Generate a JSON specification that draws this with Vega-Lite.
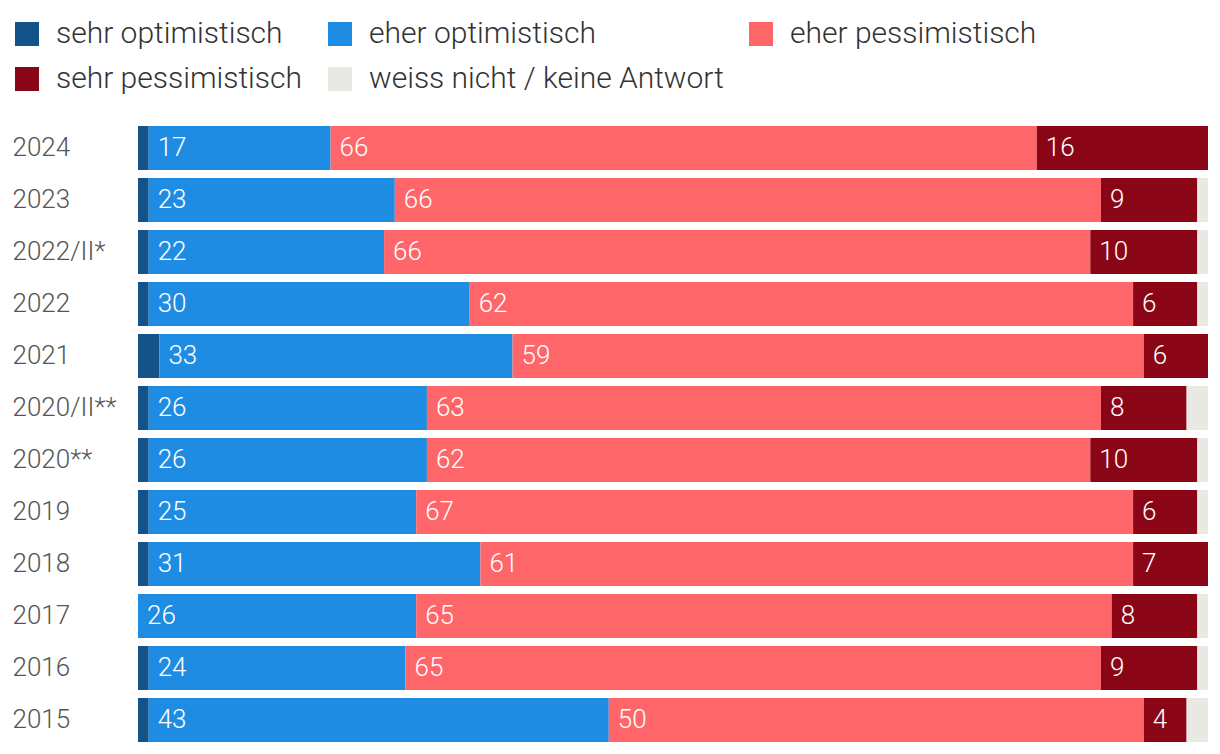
{
  "$schema": "https://vega.github.io/schema/vega-lite/v6.json",
  "width": 1070,
  "height": 616,
  "autosize": {"type": "none"},
  "padding": {"left": 138, "top": 126, "right": 12, "bottom": 12},
  "background": "white",
  "datasets": {
    "cats": [
      {"cat": "sehr optimistisch", "k": 0},
      {"cat": "eher optimistisch", "k": 1},
      {"cat": "eher pessimistisch", "k": 2},
      {"cat": "sehr pessimistisch", "k": 3},
      {"cat": "weiss nicht / keine Antwort", "k": 4}
    ],
    "rows": [
      {"year": "2024", "cat": "sehr optimistisch", "v": 1},
      {"year": "2024", "cat": "eher optimistisch", "v": 17},
      {"year": "2024", "cat": "eher pessimistisch", "v": 66},
      {"year": "2024", "cat": "sehr pessimistisch", "v": 16},
      {"year": "2023", "cat": "sehr optimistisch", "v": 1},
      {"year": "2023", "cat": "eher optimistisch", "v": 23},
      {"year": "2023", "cat": "eher pessimistisch", "v": 66},
      {"year": "2023", "cat": "sehr pessimistisch", "v": 9},
      {"year": "2023", "cat": "weiss nicht / keine Antwort", "v": 1},
      {"year": "2022/II*", "cat": "sehr optimistisch", "v": 1},
      {"year": "2022/II*", "cat": "eher optimistisch", "v": 22},
      {"year": "2022/II*", "cat": "eher pessimistisch", "v": 66},
      {"year": "2022/II*", "cat": "sehr pessimistisch", "v": 10},
      {"year": "2022/II*", "cat": "weiss nicht / keine Antwort", "v": 1},
      {"year": "2022", "cat": "sehr optimistisch", "v": 1},
      {"year": "2022", "cat": "eher optimistisch", "v": 30},
      {"year": "2022", "cat": "eher pessimistisch", "v": 62},
      {"year": "2022", "cat": "sehr pessimistisch", "v": 6},
      {"year": "2022", "cat": "weiss nicht / keine Antwort", "v": 1},
      {"year": "2021", "cat": "sehr optimistisch", "v": 2},
      {"year": "2021", "cat": "eher optimistisch", "v": 33},
      {"year": "2021", "cat": "eher pessimistisch", "v": 59},
      {"year": "2021", "cat": "sehr pessimistisch", "v": 6},
      {"year": "2020/II**", "cat": "sehr optimistisch", "v": 1},
      {"year": "2020/II**", "cat": "eher optimistisch", "v": 26},
      {"year": "2020/II**", "cat": "eher pessimistisch", "v": 63},
      {"year": "2020/II**", "cat": "sehr pessimistisch", "v": 8},
      {"year": "2020/II**", "cat": "weiss nicht / keine Antwort", "v": 2},
      {"year": "2020**", "cat": "sehr optimistisch", "v": 1},
      {"year": "2020**", "cat": "eher optimistisch", "v": 26},
      {"year": "2020**", "cat": "eher pessimistisch", "v": 62},
      {"year": "2020**", "cat": "sehr pessimistisch", "v": 10},
      {"year": "2020**", "cat": "weiss nicht / keine Antwort", "v": 1},
      {"year": "2019", "cat": "sehr optimistisch", "v": 1},
      {"year": "2019", "cat": "eher optimistisch", "v": 25},
      {"year": "2019", "cat": "eher pessimistisch", "v": 67},
      {"year": "2019", "cat": "sehr pessimistisch", "v": 6},
      {"year": "2019", "cat": "weiss nicht / keine Antwort", "v": 1},
      {"year": "2018", "cat": "sehr optimistisch", "v": 1},
      {"year": "2018", "cat": "eher optimistisch", "v": 31},
      {"year": "2018", "cat": "eher pessimistisch", "v": 61},
      {"year": "2018", "cat": "sehr pessimistisch", "v": 7},
      {"year": "2017", "cat": "eher optimistisch", "v": 26},
      {"year": "2017", "cat": "eher pessimistisch", "v": 65},
      {"year": "2017", "cat": "sehr pessimistisch", "v": 8},
      {"year": "2017", "cat": "weiss nicht / keine Antwort", "v": 1},
      {"year": "2016", "cat": "sehr optimistisch", "v": 1},
      {"year": "2016", "cat": "eher optimistisch", "v": 24},
      {"year": "2016", "cat": "eher pessimistisch", "v": 65},
      {"year": "2016", "cat": "sehr pessimistisch", "v": 9},
      {"year": "2016", "cat": "weiss nicht / keine Antwort", "v": 1},
      {"year": "2015", "cat": "sehr optimistisch", "v": 1},
      {"year": "2015", "cat": "eher optimistisch", "v": 43},
      {"year": "2015", "cat": "eher pessimistisch", "v": 50},
      {"year": "2015", "cat": "sehr pessimistisch", "v": 4},
      {"year": "2015", "cat": "weiss nicht / keine Antwort", "v": 2}
    ]
  },
  "data": {"name": "rows"},
  "transform": [
    {"lookup": "cat", "from": {"data": {"name": "cats"}, "key": "cat", "fields": ["k"]}},
    {"stack": "v", "groupby": ["year"], "sort": [{"field": "k", "order": "ascending"}], "as": ["v0", "v1"]}
  ],
  "encoding": {
    "y": {
      "field": "year",
      "type": "nominal",
      "sort": ["2024", "2023", "2022/II*", "2022", "2021", "2020/II**", "2020**", "2019", "2018", "2017", "2016", "2015"],
      "scale": {"paddingInner": 0.1538, "paddingOuter": 0},
      "axis": {
        "title": null,
        "domain": false,
        "ticks": false,
        "labelAlign": "left",
        "labelPadding": 126,
        "labelFontSize": 26,
        "labelFont": "Roboto",
        "labelFontWeight": 300,
        "labelColor": "#555555",
        "labelLimit": 200
      }
    }
  },
  "layer": [
    {
      "mark": {"type": "bar"},
      "encoding": {
        "x": {"field": "v0", "type": "quantitative", "scale": {"domain": [0, 100], "nice": false}, "axis": null},
        "x2": {"field": "v1"},
        "color": {
          "field": "cat",
          "type": "nominal",
          "scale": {
            "domain": ["sehr optimistisch", "eher optimistisch", "eher pessimistisch", "sehr pessimistisch", "weiss nicht / keine Antwort"],
            "range": ["#14528a", "#1f8ce3", "#ff6669", "#8a0616", "#e8e9e3"]
          },
          "legend": {
            "title": null,
            "orient": "none",
            "legendX": -126,
            "legendY": -107,
            "direction": "horizontal",
            "columns": 3,
            "symbolType": "square",
            "symbolSize": 576,
            "symbolStrokeWidth": 0,
            "symbolOpacity": 1,
            "labelFontSize": 30,
            "labelFont": "Roboto",
            "labelFontWeight": 300,
            "labelColor": "#333333",
            "labelOffset": 14,
            "labelLimit": 500,
            "columnPadding": 22,
            "rowPadding": 15
          }
        }
      }
    },
    {
      "transform": [{"filter": {"field": "cat", "oneOf": ["eher optimistisch", "eher pessimistisch", "sehr pessimistisch"]}}],
      "mark": {"type": "text", "align": "left", "baseline": "middle", "dx": 9, "color": "white", "font": "Roboto", "fontSize": 26, "fontWeight": 300},
      "encoding": {
        "x": {"field": "v0", "type": "quantitative"},
        "text": {"field": "v", "type": "quantitative"}
      }
    }
  ],
  "config": {"view": {"stroke": null}}
}
